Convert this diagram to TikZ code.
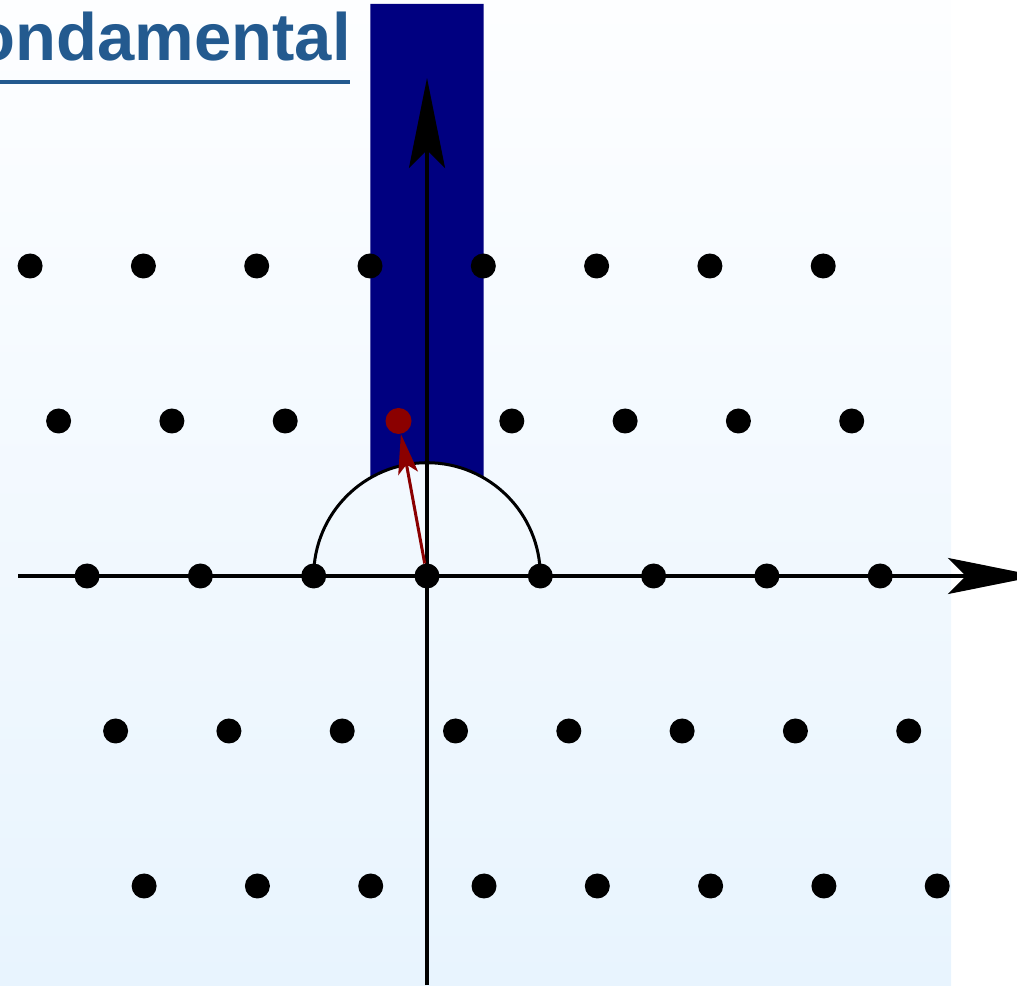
\documentclass[tikz,border=0pt]{standalone}
\usepackage{fontspec}
\setmainfont{Liberation Sans}
\usetikzlibrary{arrows.meta}
\definecolor{titleblue}{RGB}{35,90,143}
\definecolor{fdnavy}{RGB}{0,0,128}
\definecolor{taured}{RGB}{139,0,0}
\definecolor{bgtop}{RGB}{253,254,255}
\definecolor{bgbot}{RGB}{232,244,254}
\begin{document}
\begin{tikzpicture}[x=1pt,y=1pt,
  lattdot/.style={circle,fill=black,inner sep=0pt,minimum size=25pt},
  taudot/.style={circle,fill=taured,inner sep=0pt,minimum size=26pt},
  axisline/.style={line width=3.5pt,-{Stealth[length=90pt,width=36pt,inset=18pt]}},
  tauarrow/.style={taured,line width=3pt,-{Stealth[length=40pt,width=20pt,inset=9pt]}},
  unitarc/.style={line width=3pt},
  titletext/.style={anchor=base east,text=titleblue,inner sep=0pt,font=\bfseries\fontsize{67}{80}\selectfont}]
\useasboundingbox (0,0) rectangle (1017,985);
% background
\shade[top color=bgtop,bottom color=bgbot] (0,0) rectangle (951,985);
% title
\node[titletext] (title) at (351,924) {ondamental};
\draw[titleblue,line width=4pt] (0,903) -- (350,903);
% fundamental domain
\fill[fdnavy] (483.65,507.12) -- (483.65,981) -- (370.35,981) -- (370.35,507.12)
  arc[start angle=120,end angle=60,radius=113.3] -- cycle;
% unit semicircle
\draw[unitarc] (540.3,409) arc[start angle=0,end angle=180,radius=113.3];
% axes
\coordinate (xstart) at (18,409);
\coordinate (xend) at (1038,409);
\coordinate (ystart) at (427,0);
\coordinate (yend) at (427,907);
\draw[axisline] (xstart) -- (xend);
\draw[axisline] (ystart) -- (yend);
% lattice
\foreach \n in {-2,...,2}{
  \foreach \k in {-3,...,4}{
    \pgfmathtruncatemacro{\kk}{\k+3}
    \pgfmathtruncatemacro{\nn}{\n+2}
    \ifnum\kk=3 \ifnum\nn=3 \else
      \node[lattdot] (p\kk\nn) at ({427+113.3*\k-28.5*\n},{409+155*\n}) {};
    \fi\else
      \node[lattdot] (p\kk\nn) at ({427+113.3*\k-28.5*\n},{409+155*\n}) {};
    \fi
  }
}
\node[taudot] (tau) at (398.5,564) {};
\draw[tauarrow] (p32) -- (tau);
\end{tikzpicture}
\end{document}
